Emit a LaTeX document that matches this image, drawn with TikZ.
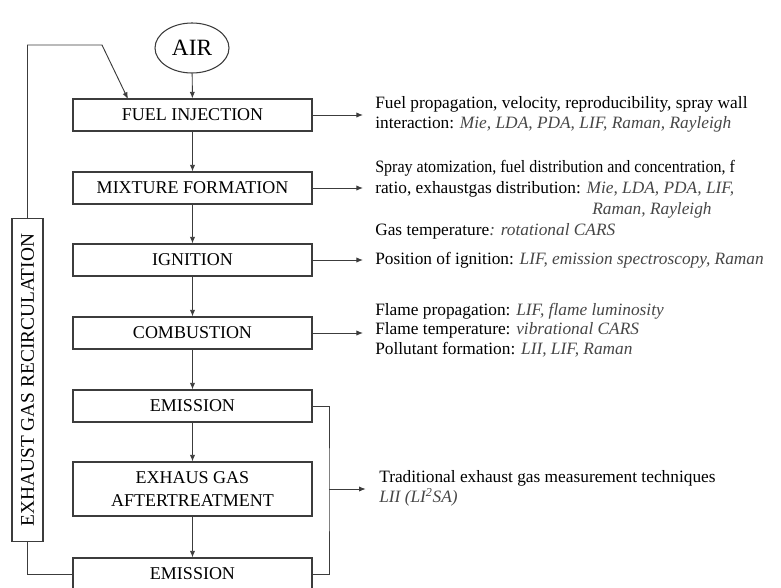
\documentclass[tikz,border=0pt]{standalone}
\usepackage{fontspec}
\setmainfont{Liberation Serif}
\usepackage{tikz}
\usetikzlibrary{arrows.meta, shapes.geometric, positioning}
\definecolor{linegray}{RGB}{60,60,60}
\definecolor{methgray}{RGB}{70,70,70}
\newcommand{\meas}[1]{{\itshape\color{methgray}#1}}

\begin{document}
\begin{tikzpicture}[x=0.75pt,y=-0.75pt,
    stage/.style={draw=linegray, line width=0.8pt, minimum width=179.25pt,
                  minimum height=24pt, inner sep=0pt, align=center,
                  font=\fontsize{13.5}{17}\selectfont},
    txt/.style={anchor=west, inner sep=0pt, align=left,
                font=\fontsize{13}{15}\selectfont},
    flow/.style={-{Latex[length=5pt,width=4pt]}, linegray, line width=0.7pt},
    wire/.style={linegray, line width=0.7pt}]

\useasboundingbox (0,0) rectangle (781,587);

% ── Air inlet ────────────────────────────────────────────────────────────────
\node[ellipse, draw=linegray, line width=0.8pt, minimum width=55.5pt,
      minimum height=37.5pt, inner sep=0pt, font=\fontsize{17.5}{19}\selectfont]
      (air) at (192,48) {AIR};

% ── Process chain ────────────────────────────────────────────────────────────
\node[stage] (fuel)  at (192.5,115) {FUEL INJECTION};
\node[stage] (mix)   at (192.5,188) {MIXTURE FORMATION};
\node[stage] (ign)   at (192.5,260) {IGNITION};
\node[stage] (comb)  at (192.5,333) {COMBUSTION};
\node[stage] (emis1) at (192.5,406) {EMISSION};
\node[stage, minimum height=40.5pt] (after) at (192.5,489)
      {EXHAUS GAS\\ AFTERTREATMENT};
\node[stage] (emis2) at (192.5,574) {EMISSION};

\draw[flow] (air) -- (fuel);
\draw[flow] (fuel) -- (mix);
\draw[flow] (mix) -- (ign);
\draw[flow] (ign) -- (comb);
\draw[flow] (comb) -- (emis1);
\draw[flow] (emis1) -- (after);
\draw[flow] (after) -- (emis2);

% ── Exhaust gas recirculation ────────────────────────────────────────────────
\node[stage, rotate=90, minimum width=242pt, minimum height=23.25pt,
      font=\fontsize{14.5}{17}\selectfont]
      (egr) at (27.5,380) {EXHAUST GAS RECIRCULATION};
\coordinate (egrbend) at (102,45);
\coordinate (egrin) at (128,99);
\draw[wire] (egr.west) |- (emis2.west);
\draw[flow] (egr.east) |- (egrbend) -- (egrin);

% ── Measurement techniques ───────────────────────────────────────────────────
\node[txt] (fueltxt) at (375,114)
      {Fuel propagation, velocity, reproducibility, spray wall\\
       interaction: \meas{Mie, LDA, PDA, LIF, Raman, Rayleigh}};
\node[txt, font=\fontsize{13}{15.75}\selectfont] (mixtxt) at (375,189)
      {{\addfontfeature{FakeStretch=0.925}Spray atomization, fuel distribution
        and concentration, f}\\
       ratio, exhaustgas distribution: \meas{Mie, LDA, PDA, LIF,}\\
       \hspace*{162.75pt}\meas{Raman, Rayleigh}};
\node[txt] (gastxt) at (375,231)
      {Gas temperature\meas{: rotational CARS}};
\node[txt] (igntxt) at (375,260)
      {Position of ignition: \meas{LIF, emission spectroscopy, Raman}};
\node[txt, font=\fontsize{13}{14.5}\selectfont] (combtxt) at (375,330)
      {Flame propagation: \meas{LIF, flame luminosity}\\
       Flame temperature: \meas{vibrational CARS}\\
       Pollutant formation: \meas{LII, LIF, Raman}};
\node[txt] (exhtxt) at (379,488.5)
      {Traditional exhaust gas measurement techniques\\
       \meas{LII (LI\textsuperscript{2}SA)}};

\draw[flow, shorten >=9pt] (fuel.east) -- (fuel.east -| fueltxt.west);
\draw[flow, shorten >=9pt] (mix.east) -- (mix.east -| mixtxt.west);
\draw[flow, shorten >=9pt] (ign.east) -- (ign.east -| igntxt.west);
\draw[flow, shorten >=9pt] (comb.east) -- (comb.east -| combtxt.west);

% ── Emission branch ──────────────────────────────────────────────────────────
\coordinate (exbus) at (329,489);
\draw[wire] (emis1.east) -| (exbus) |- (emis2.east);
\draw[flow, shorten >=10pt] (exbus) -- (exbus -| exhtxt.west);

\end{tikzpicture}
\end{document}
